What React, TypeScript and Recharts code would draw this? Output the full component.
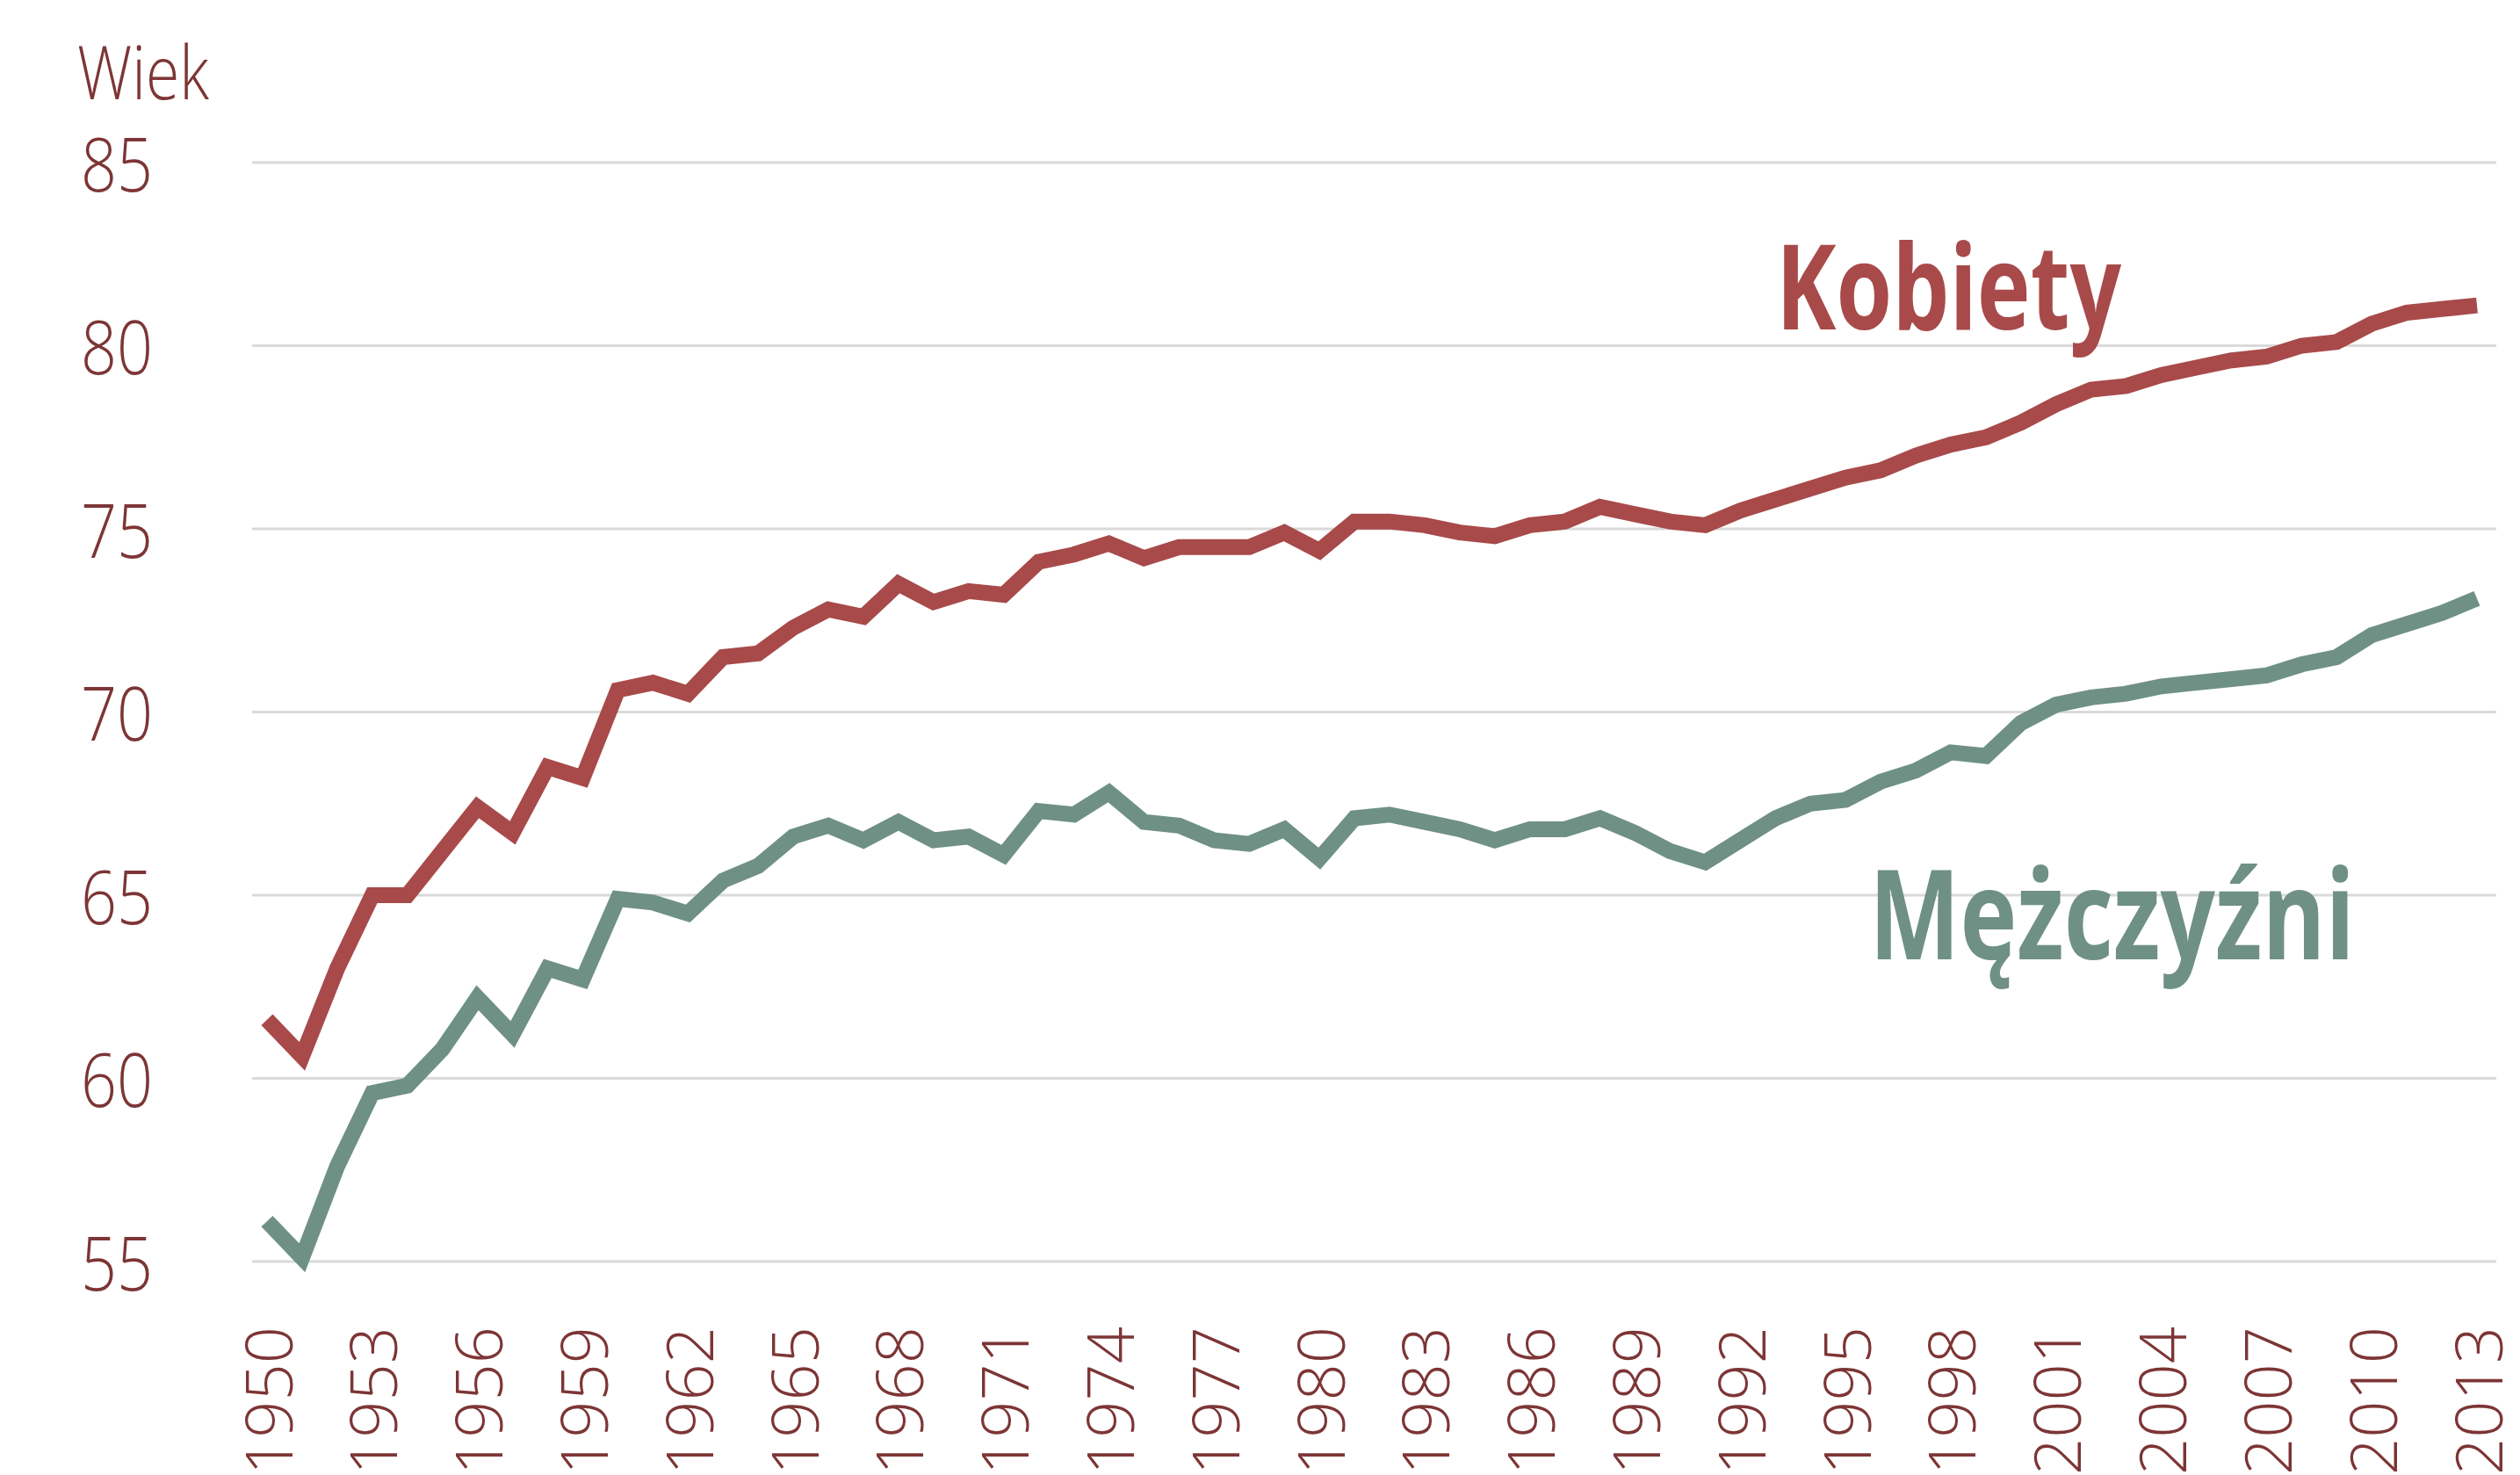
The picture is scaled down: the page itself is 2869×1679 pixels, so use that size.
import React from "react";
import { CartesianGrid, Line, LineChart, XAxis, YAxis } from "recharts";

const years = [
  1950, 1951, 1952, 1953, 1954, 1955, 1956, 1957, 1958, 1959,
  1960, 1961, 1962, 1963, 1964, 1965, 1966, 1967, 1968, 1969,
  1970, 1971, 1972, 1973, 1974, 1975, 1976, 1977, 1978, 1979,
  1980, 1981, 1982, 1983, 1984, 1985, 1986, 1987, 1988, 1989,
  1990, 1991, 1992, 1993, 1994, 1995, 1996, 1997, 1998, 1999,
  2000, 2001, 2002, 2003, 2004, 2005, 2006, 2007, 2008, 2009,
  2010, 2011, 2012, 2013,
];

// life expectancy at birth, women
const kobiety = [
  61.6, 60.6, 63.0, 65.0, 65.0, 66.2, 67.4, 66.7, 68.5, 68.2,
  70.6, 70.8, 70.5, 71.5, 71.6, 72.3, 72.8, 72.6, 73.5, 73.0,
  73.3, 73.2, 74.1, 74.3, 74.6, 74.2, 74.5, 74.5, 74.5, 74.9,
  74.4, 75.2, 75.2, 75.1, 74.9, 74.8, 75.1, 75.2, 75.6, 75.4,
  75.2, 75.1, 75.5, 75.8, 76.1, 76.4, 76.6, 77.0, 77.3, 77.5,
  77.9, 78.4, 78.8, 78.9, 79.2, 79.4, 79.6, 79.7, 80.0, 80.1,
  80.6, 80.9, 81.0, 81.1,
];

// life expectancy at birth, men
const mezczyzni = [
  56.1, 55.1, 57.6, 59.6, 59.8, 60.8, 62.2, 61.2, 63.0, 62.7,
  64.9, 64.8, 64.5, 65.4, 65.8, 66.6, 66.9, 66.5, 67.0, 66.5,
  66.6, 66.1, 67.3, 67.2, 67.8, 67.0, 66.9, 66.5, 66.4, 66.8,
  66.0, 67.1, 67.2, 67.0, 66.8, 66.5, 66.8, 66.8, 67.1, 66.7,
  66.2, 65.9, 66.5, 67.1, 67.5, 67.6, 68.1, 68.4, 68.9, 68.8,
  69.7, 70.2, 70.4, 70.5, 70.7, 70.8, 70.9, 71.0, 71.3, 71.5,
  72.1, 72.4, 72.7, 73.1,
];

const yTicks = [55, 60, 65, 70, 75, 80, 85];

const data = years.map((year, i) => ({
  year,
  kobiety: kobiety[i],
  mezczyzni: mezczyzni[i],
}));

const RED = "#a84a4a";
const GREEN = "#6f9085";
const TICK = "#7d3535";
const SANS = "'Open Sans', 'Liberation Sans', sans-serif";

function YearTick({ x, y, payload }: any) {
  return (
    <text
      x={x}
      y={y}
      transform={`rotate(-90 ${x} ${y})`}
      textAnchor="end"
      dominantBaseline="central"
      fill={TICK}
      fontSize={74}
      fontWeight={300}
      fontFamily={SANS}
    >
      {payload.value}
    </text>
  );
}

function AgeTick({ x, y, payload }: any) {
  return (
    <text
      x={x}
      y={y}
      textAnchor="end"
      dominantBaseline="central"
      fill={TICK}
      fontSize={84}
      fontWeight={300}
      fontFamily={SANS}
      textLength={82}
      lengthAdjust="spacingAndGlyphs"
    >
      {payload.value}
    </text>
  );
}

export default function App() {
  return (
    <div style={{ position: "absolute", left: 0, top: 0, width: 2869, height: 1679, background: "#fff" }}>
      <LineChart
        width={2869}
        height={1679}
        data={data}
        margin={{ top: 185, right: 27, left: 0, bottom: 0 }}
      >
        <CartesianGrid vertical={false} stroke="#dadada" strokeWidth={3} />
        <XAxis
          dataKey="year"
          interval={2}
          height={243}
          axisLine={false}
          tickLine={false}
          tickSize={0}
          tickMargin={74}
          padding={{ left: 17, right: 22 }}
          tick={<YearTick />}
        />
        <YAxis
          domain={[55, 85]}
          ticks={yTicks}
          width={287}
          axisLine={false}
          tickLine={false}
          tickSize={0}
          tickMargin={113}
          tick={<AgeTick />}
        />
        <Line
          type="linear"
          dataKey="kobiety"
          stroke={RED}
          strokeWidth={18}
          dot={false}
          isAnimationActive={false}
        />
        <Line
          type="linear"
          dataKey="mezczyzni"
          stroke={GREEN}
          strokeWidth={18}
          dot={false}
          isAnimationActive={false}
        />
      </LineChart>
      <svg
        width={2869}
        height={1679}
        style={{ position: "absolute", left: 0, top: 0, pointerEvents: "none" }}
      >
        <text x={88} y={113} fill={TICK} fontSize={84} fontFamily={SANS} fontWeight={300}
          textLength={150} lengthAdjust="spacingAndGlyphs">
          Wiek
        </text>
        <text x={2022} y={375} fill={RED} fontSize={134} fontFamily={SANS} fontWeight={700}
          textLength={393} lengthAdjust="spacingAndGlyphs">
          Kobiety
        </text>
        <text x={2128} y={1092} fill={GREEN} fontSize={142} fontFamily={SANS} fontWeight={700}
          textLength={553} lengthAdjust="spacingAndGlyphs">
          Mężczyźni
        </text>
      </svg>
    </div>
  );
}
